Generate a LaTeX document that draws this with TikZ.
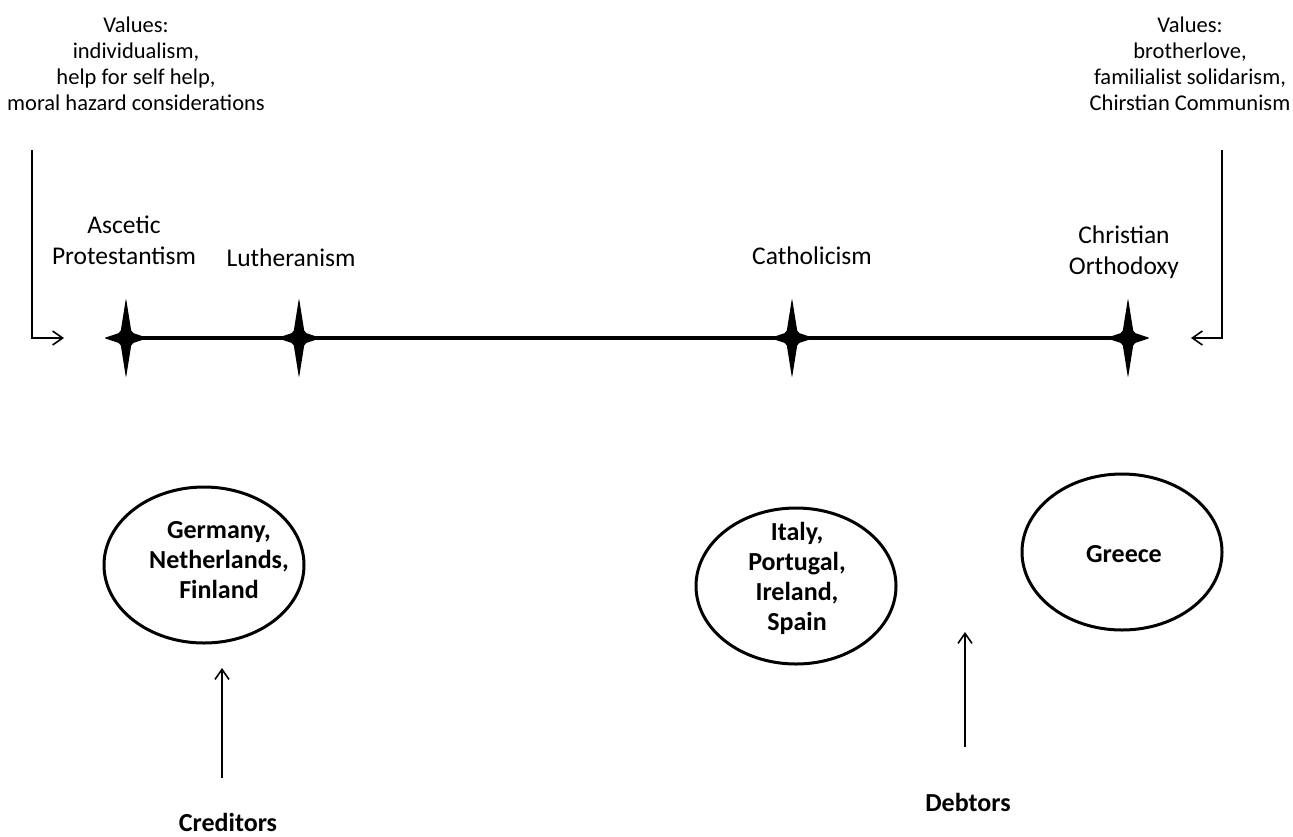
\documentclass[tikz,border=0pt]{standalone}
\usepackage{fontspec}
\setmainfont{Carlito}
\usetikzlibrary{arrows.meta,shapes.geometric,positioning}
\newcommand{\sparkstar}[1]{%
  \fill[shift={(#1)}, rounded corners=2pt] (0,-40) -- (5.5,-5.5) -- (22,0) -- (5.5,5.5)
    -- (0,40) -- (-5.5,5.5) -- (-22,0) -- (-5.5,-5.5) -- cycle;}
\tikzset{
  values/.style={font=\fontsize{22.5}{26}\selectfont, align=center},
  faith/.style={font=\fontsize{25.5}{31}\selectfont, align=center},
  country/.style={draw, ellipse, line width=3pt, minimum width=200pt, minimum height=156pt, inner sep=0pt},
  cname/.style={font=\bfseries\fontsize{26}{30}\selectfont, align=center},
  pointer/.style={line width=1.6pt, -{Straight Barb[length=10pt,width=14pt]}}
}
\begin{document}
\begin{tikzpicture}[x=1pt,y=-1pt]
\useasboundingbox (0,0) rectangle (1293,836);
% values at both ends
\node[values] (indiv) at (136,64) {Values:\\individualism,\\help for self help,\\moral hazard considerations};
\node[values] (broth) at (1190,64) {Values:\\brotherlove,\\familialist solidarism,\\Chirstian Communism};
% the scale of confessions
\coordinate (prot) at (126,338);
\coordinate (luth) at (299,338);
\coordinate (cath) at (792,338);
\coordinate (orth) at (1128,338);
\draw[line width=3.5pt] (prot) -- (orth);
\foreach \p in {prot,luth,cath,orth} {\sparkstar{\p}}
\node[faith] (protlab) at (124,240) {Ascetic\\Protestantism};
\node[faith] (luthlab) at (291,258) {Lutheranism};
\node[faith] (cathlab) at (812,256) {Catholicism};
\node[faith] (orthlab) at (1124,252) {Christian\\Orthodoxy};
% bent arrows from the values
\coordinate (ltop) at (32,150);
\coordinate (lend) at (64,338);
\draw[pointer] (ltop) |- (lend);
\coordinate (rtop) at (1222,150);
\coordinate (rend) at (1191,338);
\draw[pointer] (rtop) |- (rend);
% countries
\node[country] (germ) at (204,565) {};
\node[cname] (germtxt) at (219,560) {Germany,\\Netherlands,\\Finland};
\node[country] (ital) at (796,586) {};
\node[cname] (italtxt) at (797,578) {Italy,\\Portugal,\\Ireland,\\Spain};
\node[country] (gree) at (1122,552) {};
\node[cname] (greetxt) at (1124,554) {Greece};
% creditors and debtors
\node[cname] (cred) at (228,822) {Creditors};
\coordinate (credtail) at (222,778);
\coordinate (credhead) at (222,668);
\draw[pointer] (credtail) -- (credhead);
\node[cname] (debt) at (968,802) {Debtors};
\coordinate (debttail) at (965,747);
\coordinate (debthead) at (965,632);
\draw[pointer] (debttail) -- (debthead);
\end{tikzpicture}
\end{document}
